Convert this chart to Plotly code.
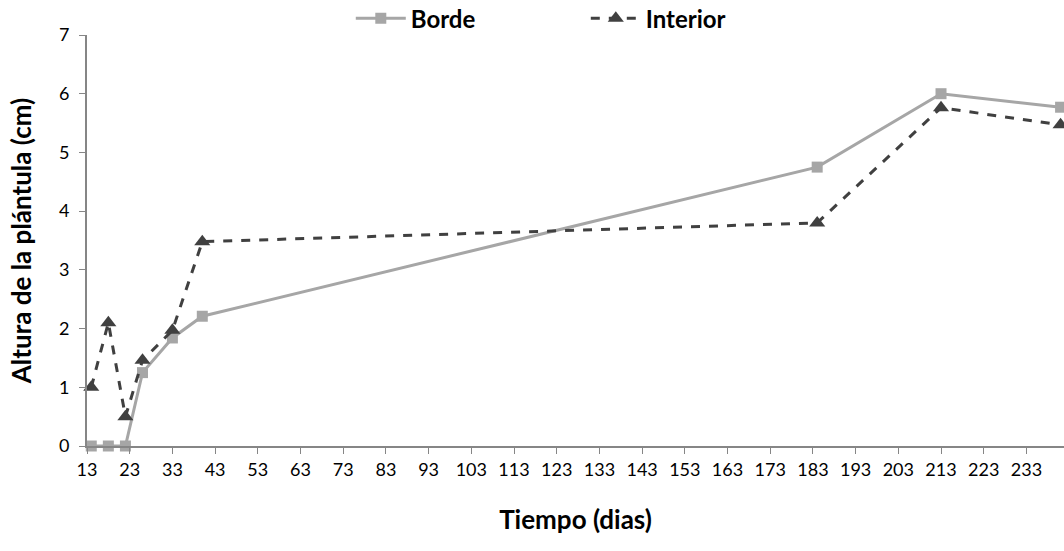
import plotly.graph_objects as go

# Sampling days and mean seedling height (cm) for each position
dias = [14, 18, 22, 26, 33, 40, 184, 213, 241]
borde = [0, 0, 0, 1.25, 1.84, 2.21, 4.75, 6.0, 5.77]
interior = [1.0, 2.1, 0.5, 1.46, 1.97, 3.48, 3.80, 5.76, 5.47]

x_ticks = list(range(13, 234, 10))
y_ticks = list(range(0, 8))

fig = go.Figure()
fig.add_trace(go.Scatter(
    x=dias, y=borde, name="Borde", mode="lines+markers",
    line=dict(color="#A6A6A6", width=3),
    marker=dict(symbol="square", size=11, color="#A6A6A6"),
    cliponaxis=False,
))
fig.add_trace(go.Scatter(
    x=dias, y=interior, name="Interior", mode="lines+markers",
    line=dict(color="#404040", width=3, dash="dash"),
    marker=dict(symbol="triangle-up", size=14, color="#404040"),
    cliponaxis=False,
))

axis_color = "#868686"
fig.update_layout(
    width=1064, height=551,
    margin=dict(l=87, r=0, t=35, b=105, autoexpand=False),
    paper_bgcolor="white", plot_bgcolor="white",
    font=dict(family="Lato, Open Sans, sans-serif", size=18, color="black"),
    showlegend=True,
    legend=dict(
        orientation="h", x=0.27, xanchor="left", y=1.04, yanchor="middle",
        font=dict(size=24, family="Lato, sans-serif", color="black", weight="bold"),
        entrywidth=170, itemwidth=50,
        bgcolor="rgba(0,0,0,0)",
    ),
    xaxis=dict(
        range=[13, 241.8], tickvals=x_ticks, ticktext=[str(v) for v in x_ticks],
        showgrid=False, zeroline=False, showline=True, linecolor=axis_color, linewidth=2,
        ticks="outside", ticklen=6, tickcolor=axis_color, tickwidth=1,
        tickfont=dict(size=18),
        title=dict(text="<b>Tiempo (dias)</b>", font=dict(size=26), standoff=32),
    ),
    yaxis=dict(
        range=[0, 7], tickvals=y_ticks,
        showgrid=False, zeroline=False, showline=True, linecolor=axis_color, linewidth=2,
        ticks="outside", ticklen=6, tickcolor=axis_color, tickwidth=1,
        tickfont=dict(size=18), ticklabelstandoff=6,
        title=dict(text="<b>Altura de la plántula (cm)</b>", font=dict(size=26), standoff=20),
    ),
)

fig.write_html("out.html")
